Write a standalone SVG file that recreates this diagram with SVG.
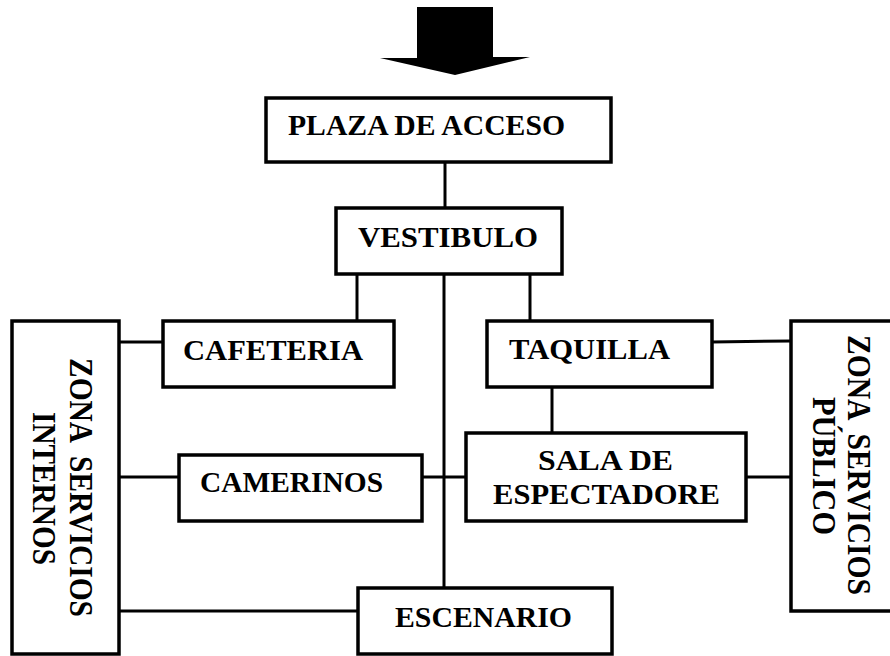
<svg xmlns="http://www.w3.org/2000/svg" width="890" height="656" viewBox="0 0 890 656">
<style>
.box{fill:#fff;stroke:#000;stroke-width:3.5}
.ln{stroke:#000;stroke-width:3;fill:none}
.t{font-family:"Liberation Serif","Times New Roman",serif;font-weight:bold;font-size:30px;fill:#000}
.v{font-size:33px}
</style>
<rect width="890" height="656" fill="#fff"/>
<g id="arrow">
<polygon points="417,7 493,7 493,57 530,57 455,75 380,58 417,58" fill="#000"/>
</g>
<g id="connectors">
<line class="ln" x1="445" y1="162" x2="445" y2="208"/>
<line class="ln" x1="357" y1="274" x2="357" y2="321"/>
<line class="ln" x1="444" y1="274" x2="444" y2="588"/>
<line class="ln" x1="530" y1="274" x2="530" y2="321"/>
<line class="ln" x1="119" y1="342" x2="163" y2="342"/>
<line class="ln" x1="119" y1="477" x2="179" y2="477"/>
<line class="ln" x1="422" y1="477" x2="466" y2="477"/>
<line class="ln" x1="119" y1="611" x2="358" y2="611"/>
<line class="ln" x1="712" y1="342" x2="791" y2="341"/>
<line class="ln" x1="552" y1="387" x2="552" y2="433"/>
<line class="ln" x1="746" y1="477" x2="791" y2="477"/>
</g>
<g id="plaza">
<rect class="box" x="266" y="98" width="345" height="64"/>
<text class="t" x="288" y="135" textLength="277" lengthAdjust="spacingAndGlyphs">PLAZA DE ACCESO</text>
</g>
<g id="vestibulo">
<rect class="box" x="336" y="208" width="226" height="66"/>
<text class="t" x="358" y="247" textLength="180" lengthAdjust="spacingAndGlyphs">VESTIBULO</text>
</g>
<g id="cafeteria">
<rect class="box" x="163" y="321" width="231" height="66"/>
<text class="t" x="183" y="360" textLength="180" lengthAdjust="spacingAndGlyphs">CAFETERIA</text>
</g>
<g id="taquilla">
<rect class="box" x="487" y="321" width="225" height="66"/>
<text class="t" x="509" y="359" textLength="161" lengthAdjust="spacingAndGlyphs">TAQUILLA</text>
</g>
<g id="camerinos">
<rect class="box" x="179" y="455" width="243" height="66"/>
<text class="t" x="200" y="492" textLength="183" lengthAdjust="spacingAndGlyphs">CAMERINOS</text>
</g>
<g id="sala">
<rect class="box" x="466" y="433" width="280" height="88"/>
<text class="t" x="538" y="470" textLength="135" lengthAdjust="spacingAndGlyphs">SALA DE</text>
<text class="t" x="493" y="504" textLength="227" lengthAdjust="spacingAndGlyphs">ESPECTADORE</text>
</g>
<g id="escenario">
<rect class="box" x="358" y="588" width="254" height="66"/>
<text class="t" x="395" y="627" textLength="177" lengthAdjust="spacingAndGlyphs">ESCENARIO</text>
</g>
<g id="zona-internos">
<rect class="box" x="12" y="321" width="107" height="333"/>
<text class="t v" xml:space="preserve" transform="translate(70,358) rotate(90)" textLength="259" lengthAdjust="spacingAndGlyphs">ZONA  SERVICIOS</text>
<text class="t v" transform="translate(33,412) rotate(90)" textLength="153" lengthAdjust="spacingAndGlyphs">INTERNOS</text>
</g>
<g id="zona-publico">
<rect class="box" x="791" y="321" width="110" height="290"/>
<text class="t v" xml:space="preserve" transform="translate(848,335) rotate(90)" textLength="260" lengthAdjust="spacingAndGlyphs">ZONA  SERVICIOS</text>
<text class="t v" transform="translate(813,397) rotate(90)" textLength="138" lengthAdjust="spacingAndGlyphs">PÚBLICO</text>
</g>
</svg>
